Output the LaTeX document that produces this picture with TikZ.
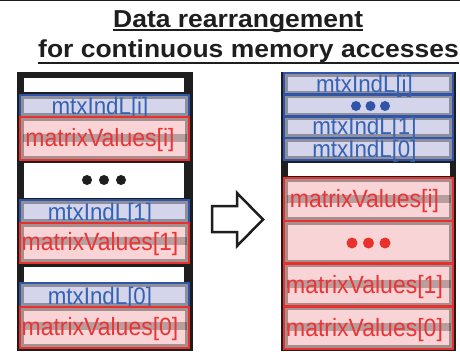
\documentclass[tikz,border=0pt]{standalone}
\usepackage{fontspec}
\setmainfont{Liberation Sans}
\definecolor{idxblue}{HTML}{2F55A8}
\definecolor{idxtext}{HTML}{3462B4}
\definecolor{idxfill}{HTML}{D4D4EA}
\definecolor{valred}{HTML}{E8302C}
\definecolor{valtext}{HTML}{EC3434}
\definecolor{valfill}{HTML}{F8D4D6}
\definecolor{titlegray}{HTML}{1E1E1E}
\tikzset{
  idx/.style={draw=idxblue, line width=2.5pt, fill=idxfill},
  val/.style={draw=valred, line width=2.5pt, fill=valfill},
  inset/.style={draw=black, draw opacity=0.33, line width=2.5pt},
  band/.style={fill=black, fill opacity=0.25},
  idxtxt/.style={text=idxtext, inner sep=0pt, anchor=base, xscale=0.93, font=\fontsize{24}{26}\selectfont},
  valtxt/.style={text=valtext, inner sep=0pt, anchor=base, xscale=0.92, font=\fontsize{25}{27}\selectfont},
  headline/.style={text=titlegray, inner sep=0pt, anchor=base west, xscale=1.08, font=\bfseries\fontsize{24.5}{28}\selectfont},
  uline/.style={titlegray, line width=2pt},
  memblock/.style={fill=titlegray},
}
% one memory cell: style, x1, y1, x2, y2
\newcommand\cellbox[5]{%
  \draw[#1] (#2,#3) rectangle (#4,#5);
  \draw[inset] (#2+2.5,#3+2.5) rectangle (#4-2.5,#5-2.5);
}
\begin{document}
\begin{tikzpicture}[x=1pt, y=-1pt]
\useasboundingbox (0,0) rectangle (460,358);
\draw[titlegray, line width=1.5pt] (0,0.75) -- (460,0.75);

% title
\node[headline] (title1) at (113,27.5) {Data rearrangement\ };
\node[headline] (title2) at (38,57.5) {for continuous memory accesses};
\draw[uline] ([yshift=-3pt]title1.base west) -- ([yshift=-3pt]title1.base east);
\draw[uline] ([yshift=-6pt]title2.base west) -- ([yshift=-6pt]title2.base east);

% original layout (left)
\fill[memblock] (17,72) rectangle (193,351);
\fill[white] (24,78) rectangle (184,92);
\fill[white] (24,163) rectangle (184,198);
\fill[white] (24,267) rectangle (184,282);
\foreach \y/\b/\n in {95/117/i, 200/223/1, 283/307/0}{
  \cellbox{idx}{20}{\y}{189}{\b}
  \node[idxtxt] (lidx\n) at (100,\b-2.5) {mtxIndL[\n]};
}
\foreach \y/\b/\n in {117/160/i, 223/263/1, 307/348/0}{
  \cellbox{val}{20}{\y}{189}{\b}
  \fill[band] (22.5,\b-26) rectangle (186.5,\b-18);
  \node[valtxt] (lval\n) at (100,\b-13) {matrixValues[\n]};
}
\foreach \x in {87,104,121}
  \fill[titlegray] (\x,180) circle (5);

% block arrow
\draw[titlegray, line width=2.5pt, fill=white] (212,206) -- (237,206) -- (237,193) -- (263,219.5) -- (237,246) -- (237,232) -- (212,232) -- cycle;

% rearranged layout (right)
\fill[memblock] (281,72) rectangle (456,351);
\fill[white] (288,163) rectangle (450,176);
\foreach \y/\b in {73/94.75, 94.75/116.5, 116.5/138.25, 138.25/160}{
  \cellbox{idx}{284}{\y}{453}{\b}
}
\node[idxtxt] (ridxi) at (364.5,92.5) {mtxIndL[i]};
\node[idxtxt] (ridx1) at (364.5,134.5) {mtxIndL[1]};
\node[idxtxt] (ridx0) at (364.5,158) {mtxIndL[0]};
\foreach \x in {356,370.5,385}
  \fill[idxblue] (\x,106) circle (5);
\foreach \y/\b in {178/220.75, 220.75/263.5, 263.5/306.25, 306.25/349}{
  \cellbox{val}{284}{\y}{453}{\b}
}
\foreach \b/\n in {220.75/i, 306.25/1, 349/0}{
  \fill[band] (286.5,\b-26) rectangle (450.5,\b-18);
  \node[valtxt] (rval\n) at (364.5,\b-13) {matrixValues[\n]};
}
\foreach \x in {352,368.5,385}
  \fill[valred] (\x,243) circle (5.5);
\end{tikzpicture}
\end{document}
